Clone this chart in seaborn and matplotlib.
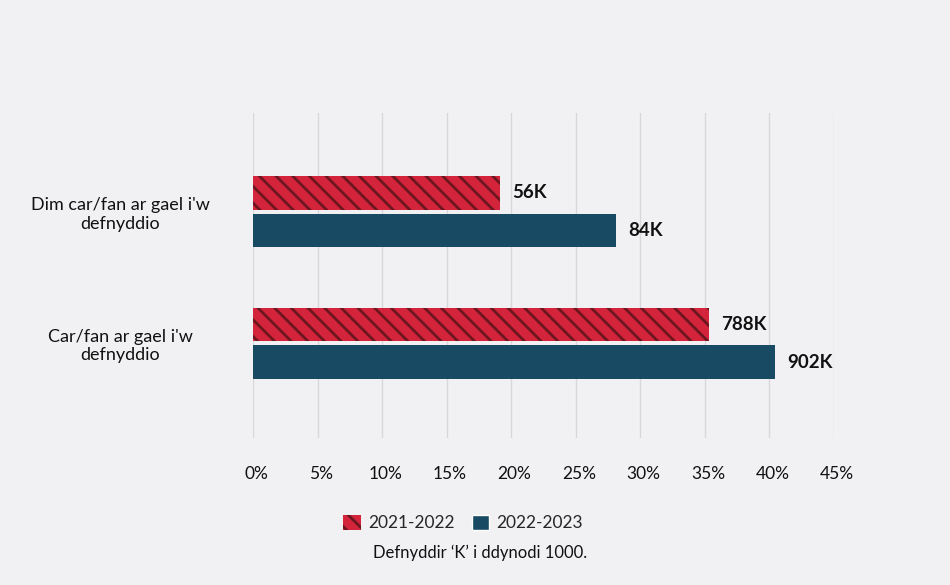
import pandas as pd
import seaborn as sns
import matplotlib.pyplot as plt
from matplotlib.patches import Patch
from matplotlib.ticker import MultipleLocator, FuncFormatter
from matplotlib.transforms import ScaledTranslation

# data
categories = ["Dim car/fan ar gael i'w\ndefnyddio", "Car/fan ar gael i'w\ndefnyddio"]
years = ["2021-2022", "2022-2023"]
pct_2021 = [19.1, 35.3]
pct_2022 = [28.1, 40.4]
labels_2021 = ["56K", "788K"]
labels_2022 = ["84K", "902K"]

bg = "#f1f1f3"
red = "#d3243b"
navy = "#184a63"
hatch_col = "#6e1620"

df = pd.DataFrame({
    "cat": categories * 2,
    "year": [years[0]] * 2 + [years[1]] * 2,
    "pct": pct_2021 + pct_2022,
})

sns.set_style("white")
plt.rcParams["font.family"] = ["Lato", "DejaVu Sans"]
plt.rcParams["hatch.linewidth"] = 2.0
plt.rcParams["hatch.color"] = hatch_col

fig = plt.figure(figsize=(9.5, 5.85), dpi=100, facecolor=bg)
ax = fig.add_axes([253 / 950, 1 - 438 / 585, (834 - 253) / 950, (438 - 113) / 585])
ax.set_facecolor(bg)

sns.barplot(data=df, y="cat", x="pct", hue="year", orient="h",
            palette=[red, navy], width=0.57, gap=0.1, legend=False, ax=ax,
            saturation=1, zorder=3)

n = len(categories)
for i, p in enumerate(ax.patches):
    p.set_linewidth(0)
    if i < n:
        p.set_edgecolor(hatch_col)
        p.set_hatch("\\\\")

ax.bar_label(ax.containers[0], labels=labels_2021, padding=9,
             fontsize=13.5, fontweight="bold", color="#111111")
ax.bar_label(ax.containers[1], labels=labels_2022, padding=9,
             fontsize=13.5, fontweight="bold", color="#111111")

ax.set_xlim(0, 45)
ax.set_ylim(1.72, -0.75)
ax.xaxis.set_major_locator(MultipleLocator(5))
ax.xaxis.set_major_formatter(FuncFormatter(lambda v, _: f"{v:.0f}%"))
ax.grid(axis="x", color="#d8d8dc", linewidth=1, zorder=0)
ax.set_axisbelow(True)
sns.despine(ax=ax, left=True, bottom=True)
ax.tick_params(axis="x", length=0, pad=20, labelsize=12.5, labelcolor="#111111")
ax.tick_params(axis="y", length=0, pad=0, labelsize=13, labelcolor="#111111")
ax.set_xlabel("")
ax.set_ylabel("")
# centre the category labels around x = 120 px
for t in ax.get_yticklabels():
    t.set_ha("center")
    t.set_multialignment("center")
    t.set_transform(ax.get_yaxis_transform() + ScaledTranslation(-1.33, 0, fig.dpi_scale_trans))
for t in ax.get_xticklabels():
    t.set_transform(t.get_transform() + ScaledTranslation(0.03, 0, fig.dpi_scale_trans))

handles = [Patch(facecolor=red, hatch="\\\\", edgecolor=hatch_col, linewidth=0, label=years[0]),
           Patch(facecolor=navy, label=years[1])]
fig.legend(handles=handles, loc="center", bbox_to_anchor=(463 / 950, 1 - 523 / 585),
           ncol=2, frameon=False, fontsize=12.5, handlelength=1.0, handleheight=1.0,
           handletextpad=0.4, columnspacing=1.0)
fig.text(480 / 950, 1 - 553 / 585, "Defnyddir \u2018K\u2019 i ddynodi 1000.",
         ha="center", va="center", fontsize=12, color="#111111")

fig.savefig("out.png", dpi=100, facecolor=bg)
